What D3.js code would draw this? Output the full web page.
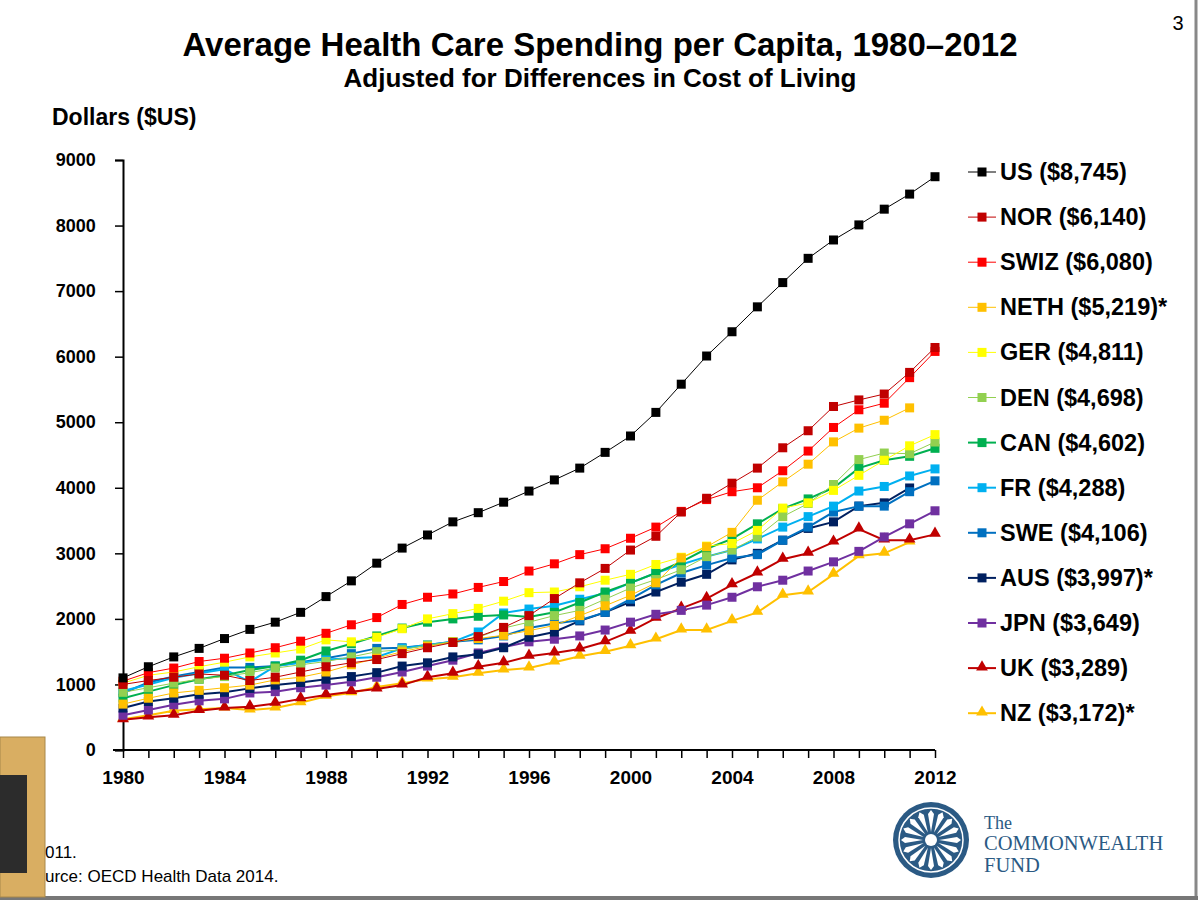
<!DOCTYPE html>
<html>
<head>
<meta charset="utf-8">
<script src="https://cdn.jsdelivr.net/npm/d3@7"></script>
<style>
	body { margin: 0; background: #fff; font-family: Arial, "Liberation Sans", sans-serif; }
	svg text { font-family: Arial, "Liberation Sans", sans-serif; }
	svg text.serif { font-family: "Liberation Serif", "DejaVu Serif", serif; }
</style>
</head>
<body>
<script>
const years = d3.range(1980, 2013);
const yTicks = [0, 1000, 2000, 3000, 4000, 5000, 6000, 7000, 8000, 9000];
const xTicks = [1980, 1984, 1988, 1992, 1996, 2000, 2004, 2008, 2012];

const us = [1100,1270,1420,1550,1700,1840,1950,2100,2340,2580,2850,3080,3280,3480,3620,3780,3950,4120,4300,4540,4790,5150,5580,6010,6380,6760,7130,7500,7780,8010,8250,8480,8745];
const nor = [1000,1060,1110,1160,1140,1060,1110,1190,1270,1330,1380,1470,1560,1640,1730,1870,2050,2310,2550,2770,3050,3260,3630,3840,4070,4300,4610,4870,5240,5340,5430,5760,6140];
const swiz = [1050,1180,1250,1350,1400,1480,1560,1660,1780,1910,2020,2220,2330,2380,2480,2570,2730,2840,2980,3070,3230,3400,3640,3820,3940,4000,4260,4560,4920,5190,5290,5680,6080];
const neth = [700,790,870,910,950,990,1070,1110,1190,1300,1400,1500,1580,1650,1700,1750,1820,1900,2050,2200,2360,2550,2930,3100,3320,3810,4090,4360,4700,4910,5030,5219,null];
const ger = [1020,1140,1190,1270,1340,1420,1480,1540,1680,1650,1720,1850,2000,2080,2160,2270,2400,2410,2490,2590,2680,2830,2940,3110,3150,3350,3690,3770,3960,4190,4420,4640,4811];
const den = [880,950,1020,1080,1120,1180,1250,1300,1350,1420,1500,1530,1600,1650,1720,1860,1950,2050,2130,2300,2470,2600,2750,2950,3050,3250,3560,3760,4050,4430,4530,4520,4698];
const can = [790,890,990,1080,1140,1220,1280,1370,1510,1620,1740,1860,1950,2000,2040,2060,2030,2100,2250,2410,2550,2700,2870,3070,3220,3450,3680,3830,4000,4300,4420,4480,4602];
const fr = [900,1000,1100,1170,1230,1040,1280,1330,1380,1400,1420,1550,1600,1650,1800,2090,2150,2200,2300,2390,2550,2700,2830,2950,3050,3220,3400,3560,3720,3950,4020,4180,4288];
const swe = [870,1030,1120,1190,1260,1260,1280,1340,1400,1470,1550,1560,1600,1650,1680,1740,1860,1930,1980,2100,2300,2520,2700,2820,2930,2980,3200,3400,3630,3720,3720,3940,4106];
const aus = [640,740,790,850,880,940,990,1030,1080,1120,1180,1280,1330,1420,1460,1560,1720,1800,1970,2100,2260,2410,2560,2680,2900,3000,3200,3380,3480,3720,3770,3997,null];
const jpn = [530,610,690,750,780,870,890,950,990,1040,1110,1190,1280,1370,1480,1570,1650,1690,1740,1830,1950,2070,2130,2210,2330,2490,2590,2730,2870,3030,3250,3450,3649];
const uk = [460,500,530,600,640,660,710,780,840,890,930,990,1110,1170,1270,1330,1430,1480,1540,1650,1810,2010,2160,2310,2520,2700,2910,3000,3170,3370,3200,3200,3289];
const nz = [470,530,600,620,640,610,640,720,820,870,960,1020,1080,1110,1170,1220,1250,1340,1430,1500,1590,1690,1830,1830,1970,2100,2360,2410,2680,2960,3000,3172,null];

const series = [
	{ label: "US ($8,745)", values: us, color: "#000000", shape: "square", width: 1 },
	{ label: "NOR ($6,140)", values: nor, color: "#c00000", shape: "square", width: 1 },
	{ label: "SWIZ ($6,080)", values: swiz, color: "#ff0000", shape: "square", width: 1 },
	{ label: "NETH ($5,219)*", values: neth, color: "#ffc000", shape: "square", width: 1 },
	{ label: "GER ($4,811)", values: ger, color: "#ffff00", shape: "square", width: 1 },
	{ label: "DEN ($4,698)", values: den, color: "#92d050", shape: "square", width: 1 },
	{ label: "CAN ($4,602)", values: can, color: "#00b050", shape: "square", width: 2 },
	{ label: "FR ($4,288)", values: fr, color: "#00b0f0", shape: "square", width: 2 },
	{ label: "SWE ($4,106)", values: swe, color: "#0070c0", shape: "square", width: 2 },
	{ label: "AUS ($3,997)*", values: aus, color: "#002060", shape: "square", width: 2 },
	{ label: "JPN ($3,649)", values: jpn, color: "#7030a0", shape: "square", width: 2 },
	{ label: "UK ($3,289)", values: uk, color: "#c00000", shape: "triangle", width: 2 },
	{ label: "NZ ($3,172)*", values: nz, color: "#ffc000", shape: "triangle", width: 2 },
];

const width = 1200, height = 903;
const margin = { top: 160, right: 265, bottom: 153, left: 123 };

const svg = d3.select("body").append("svg")
	.attr("width", width)
	.attr("height", height);

// frame
svg.append("line").attr("x1", 1196).attr("x2", 1196).attr("y1", 0).attr("y2", 897)
	.attr("stroke", "#888").attr("stroke-width", 3);
svg.append("line").attr("x1", 0).attr("x2", 1198).attr("y1", 898).attr("y2", 898)
	.attr("stroke", "#777").attr("stroke-width", 4);

svg.append("text").attr("x", 1178).attr("y", 30).attr("text-anchor", "middle")
	.attr("font-size", 20).text("3");
svg.append("text").attr("x", 600).attr("y", 56).attr("text-anchor", "middle")
	.attr("font-size", 33).attr("font-weight", "bold").text("Average Health Care Spending per Capita, 1980–2012");
svg.append("text").attr("x", 600).attr("y", 87).attr("text-anchor", "middle")
	.attr("font-size", 26).attr("font-weight", "bold").text("Adjusted for Differences in Cost of Living");
svg.append("text").attr("x", 52).attr("y", 125)
	.attr("font-size", 23).attr("font-weight", "bold").text("Dollars ($US)");

let x = d3.scaleLinear().domain([1980, 2012]).range([margin.left, width - margin.right]);
let y = d3.scaleLinear().domain([0, 9000]).range([height - margin.bottom, margin.top]);

let axisX = svg.append("g")
	.attr("transform", `translate(0, ${y(0)})`)
	.call(d3.axisBottom(x).tickValues(years).tickSize(8).tickFormat(d => xTicks.includes(d) ? d : ""));
axisX.selectAll("text").attr("font-size", 19).attr("font-weight", "bold").attr("fill", "#000").attr("dy", "1.2em");
axisX.select(".domain").attr("stroke", "#000").attr("stroke-width", 2).attr("d", `M${x(1980) - 10},0H${x(2012)}`);
axisX.selectAll("line").attr("stroke", "#000").attr("stroke-width", 1.5);

let axisY = svg.append("g")
	.attr("transform", `translate(${margin.left}, 0)`)
	.call(d3.axisLeft(y).tickValues(yTicks).tickSize(8).tickFormat(d3.format("d")));
axisY.selectAll("text").attr("font-size", 18).attr("font-weight", "bold").attr("fill", "#000").attr("dx", "-0.9em");
axisY.select(".domain").attr("stroke", "#000").attr("stroke-width", 2);
axisY.selectAll("line").attr("stroke", "#000").attr("stroke-width", 1.5);

let line = d3.line()
	.defined(d => d.v != null)
	.x(d => x(d.year))
	.y(d => y(d.v));

let triangle = d3.symbol().type(d3.symbolTriangle).size(60);

let chart = svg.append("g").attr("class", "chart");
for (let s of series.slice().reverse()) {
	let pts = years.map((year, i) => ({ year, v: s.values[i] })).filter(d => d.v != null);
	let g = chart.append("g");
	g.append("path")
		.attr("d", line(pts))
		.attr("fill", "none")
		.attr("stroke", s.color)
		.attr("stroke-width", s.width);
	if (s.shape === "square") {
		g.selectAll("rect").data(pts).enter().append("rect")
			.attr("x", d => x(d.year) - 4.5)
			.attr("y", d => y(d.v) - 4.5)
			.attr("width", 9).attr("height", 9)
			.attr("fill", s.color);
	} else {
		g.selectAll("path.m").data(pts).enter().append("path")
			.attr("class", "m")
			.attr("d", triangle)
			.attr("transform", d => `translate(${x(d.year)}, ${y(d.v) - 1})`)
			.attr("fill", s.color);
	}
}

// legend
let legend = svg.append("g").selectAll("g")
	.data(series).enter().append("g")
		.attr("transform", (d, i) => `translate(968, ${172 + i * 45.1})`);
legend.append("line").attr("x1", 0).attr("x2", 28)
	.attr("stroke", d => d.color).attr("stroke-width", d => d.width);
legend.append("rect").attr("x", 9.5).attr("y", -4.5).attr("width", 9).attr("height", 9)
	.attr("fill", d => d.color).attr("display", d => d.shape === "square" ? null : "none");
legend.filter(d => d.shape === "triangle").append("path")
	.attr("d", triangle).attr("transform", "translate(14, -1)").attr("fill", d => d.color);
legend.append("text").attr("x", 32).attr("y", 8)
	.attr("font-size", 23.5).attr("font-weight", "bold").text(d => d.label);

// left thumbnail and footnote fragments
svg.append("rect").attr("x", 0).attr("y", 737).attr("width", 45).attr("height", 160)
	.attr("fill", "#d9ae62").attr("stroke", "#a8884a");
svg.append("rect").attr("x", 0).attr("y", 775).attr("width", 27).attr("height", 98).attr("fill", "#2c2c2c");
svg.append("text").attr("x", 45).attr("y", 858).attr("font-size", 17).text("011.");
svg.append("text").attr("x", 45).attr("y", 882).attr("font-size", 17).text("urce: OECD Health Data 2014.");

// Commonwealth Fund logo
let logo = svg.append("g").attr("transform", "translate(931, 840)");
logo.append("circle").attr("r", 38).attr("fill", "#2b5a84");
logo.append("circle").attr("r", 32).attr("fill", "none").attr("stroke", "#fff").attr("stroke-width", 1.5);
logo.selectAll("path").data(d3.range(16)).enter().append("path")
	.attr("d", "M0,-8 L3,-26 L0,-30 L-3,-26 Z")
	.attr("fill", "#fff")
	.attr("transform", d => `rotate(${d * 22.5})`);
logo.append("circle").attr("r", 6).attr("fill", "#fff");
let brand = svg.append("g").attr("fill", "#2b5a84");
brand.append("text").attr("class", "serif").attr("x", 984).attr("y", 829).attr("font-size", 18).text("The");
brand.append("text").attr("class", "serif").attr("x", 984).attr("y", 850).attr("font-size", 20.5).text("COMMONWEALTH");
brand.append("text").attr("class", "serif").attr("x", 984).attr("y", 872).attr("font-size", 20.5).text("FUND");
</script>
</body>
</html>
